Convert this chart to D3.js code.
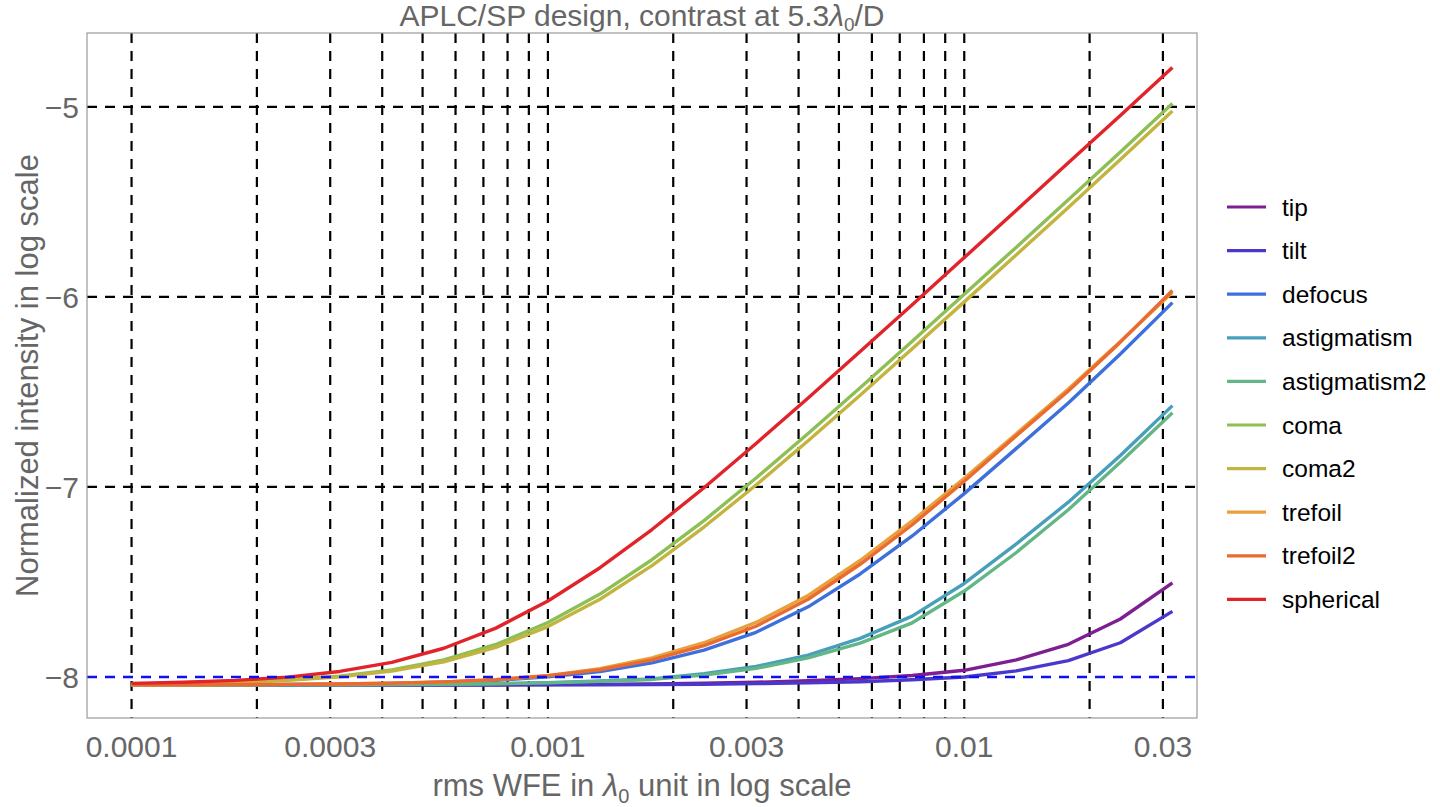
<!DOCTYPE html>
<html>
<head>
<meta charset="utf-8">
<script src="https://cdn.jsdelivr.net/npm/d3@7/dist/d3.min.js"></script>
<style>
  html, body { margin: 0; padding: 0; background: #fff; }
  svg text { font-family: "Liberation Sans", Arial, Helvetica, sans-serif; }
  .tick-label { fill: #666; font-size: 30px; }
  .axis-title { fill: #666; font-size: 31px; }
  .plot-title { fill: #666; font-size: 30px; }
  .legend-label { fill: #000; font-size: 24.5px; }
</style>
</head>
<body>
<svg id="chart" width="1440" height="807"></svg>
<script>
// rms WFE sample points (lambda0 units), 8 per decade
const wfe = [0.0001, 0.0001334, 0.0001778, 0.0002371, 0.0003162, 0.0004217, 0.0005623, 0.0007499,
  0.001, 0.001334, 0.001778, 0.002371, 0.003162, 0.004217, 0.005623, 0.007499,
  0.01, 0.01334, 0.01778, 0.02371, 0.03162];

// log10 of normalized intensity, one array per aberration
const tip = [-8.042, -8.042, -8.042, -8.042, -8.042, -8.042, -8.041, -8.041, -8.040, -8.039, -8.037,
  -8.033, -8.028, -8.020, -8.009, -7.992, -7.965, -7.910, -7.828, -7.695, -7.505];
const tilt = [-8.042, -8.042, -8.042, -8.042, -8.042, -8.042, -8.042, -8.042, -8.041, -8.041, -8.040,
  -8.038, -8.035, -8.031, -8.025, -8.015, -8.000, -7.968, -7.914, -7.820, -7.655];
const defocus = [-8.042, -8.041, -8.041, -8.039, -8.038, -8.034, -8.028, -8.018, -7.999, -7.972, -7.926,
  -7.859, -7.765, -7.631, -7.458, -7.258, -7.035, -6.797, -6.558, -6.300, -6.030];
const astigmatism = [-8.042, -8.042, -8.041, -8.041, -8.041, -8.040, -8.038, -8.035, -8.030, -8.021, -8.010,
  -7.983, -7.945, -7.885, -7.797, -7.680, -7.508, -7.300, -7.080, -6.835, -6.572];
const astigmatism2 = [-8.042, -8.042, -8.042, -8.041, -8.041, -8.040, -8.038, -8.036, -8.031, -8.023, -8.013,
  -7.990, -7.955, -7.900, -7.822, -7.715, -7.548, -7.345, -7.120, -6.870, -6.610];
const coma = [-8.037, -8.033, -8.027, -8.015, -7.996, -7.963, -7.910, -7.829, -7.714, -7.564, -7.383,
  -7.177, -6.953, -6.719, -6.478, -6.233, -5.986, -5.738, -5.489, -5.237, -4.982];
const coma2 = [-8.038, -8.034, -8.028, -8.018, -7.999, -7.969, -7.920, -7.844, -7.735, -7.591, -7.414,
  -7.211, -6.990, -6.757, -6.517, -6.273, -6.026, -5.778, -5.529, -5.277, -5.022];
const trefoil = [-8.041, -8.041, -8.040, -8.039, -8.037, -8.033, -8.026, -8.014, -7.993, -7.957, -7.900,
  -7.820, -7.713, -7.571, -7.387, -7.179, -6.955, -6.720, -6.485, -6.235, -5.976];
const trefoil2 = [-8.041, -8.041, -8.040, -8.039, -8.037, -8.033, -8.026, -8.014, -7.993, -7.962, -7.910,
  -7.835, -7.733, -7.591, -7.407, -7.199, -6.970, -6.730, -6.495, -6.238, -5.966];
const spherical = [-8.034, -8.028, -8.018, -8.001, -7.971, -7.923, -7.849, -7.743, -7.600, -7.425, -7.224,
  -7.004, -6.771, -6.532, -6.287, -6.041, -5.793, -5.544, -5.294, -5.045, -4.793];

const seriesNames = ['tip', 'tilt', 'defocus', 'astigmatism', 'astigmatism2', 'coma', 'coma2', 'trefoil', 'trefoil2', 'spherical'];
const seriesValues = [tip, tilt, defocus, astigmatism, astigmatism2, coma, coma2, trefoil, trefoil2, spherical];
const seriesColors = ['#7d1f90', '#4a38cc', '#3d70dd', '#489fbb', '#63b686', '#8dbf55', '#c2b43e', '#e8a03c', '#eb6a30', '#e0242a'];

// axis ticks and grid lines
const xTicks = [0.0001, 0.0003, 0.001, 0.003, 0.01, 0.03];
const xGrid = [0.0001, 0.0002, 0.0003, 0.0004, 0.0005, 0.0006, 0.0007, 0.0008, 0.0009,
  0.001, 0.002, 0.003, 0.004, 0.005, 0.006, 0.007, 0.008, 0.009, 0.01, 0.02, 0.03];
const yTicks = [-8, -7, -6, -5];
const yGrid = [-7, -6, -5];
const floorLevel = -8;

const svg = d3.select('#chart');
const plot = { left: 87, right: 1197, top: 33, bottom: 718 };

const x = d3.scaleLog()
  .domain([Math.pow(10, -4.107), Math.pow(10, -1.441)])
  .range([plot.left, plot.right]);
const y = d3.scaleLinear()
  .domain([-8.216, -4.611])
  .range([plot.bottom, plot.top]);

// grid lines (behind the curves)
const grid = svg.append('g').attr('class', 'grid');
grid.selectAll('line.vgrid')
  .data(xGrid)
  .enter()
  .append('line')
  .attr('x1', d => x(d))
  .attr('x2', d => x(d))
  .attr('y1', plot.top)
  .attr('y2', plot.bottom)
  .attr('stroke', '#000')
  .attr('stroke-width', 2.2)
  .attr('stroke-dasharray', '10,8');
grid.selectAll('line.hgrid')
  .data(yGrid)
  .enter()
  .append('line')
  .attr('x1', plot.left)
  .attr('x2', plot.right)
  .attr('y1', d => y(d))
  .attr('y2', d => y(d))
  .attr('stroke', '#000')
  .attr('stroke-width', 2.2)
  .attr('stroke-dasharray', '10,8');

// curves
const line = d3.line()
  .x((d, i) => x(wfe[i]))
  .y(d => y(d));
svg.append('g')
  .selectAll('path')
  .data(seriesValues)
  .enter()
  .append('path')
  .attr('d', d => line(d))
  .attr('fill', 'none')
  .attr('stroke', (d, i) => seriesColors[i])
  .attr('stroke-width', 3.4)
  .attr('stroke-linejoin', 'round');

// blue reference line at the floor
svg.append('line')
  .attr('x1', plot.left)
  .attr('x2', plot.right)
  .attr('y1', y(floorLevel))
  .attr('y2', y(floorLevel))
  .attr('stroke', '#1010ee')
  .attr('stroke-width', 2.6)
  .attr('stroke-dasharray', '10,8');

// frame
svg.append('rect')
  .attr('x', plot.left)
  .attr('y', plot.top)
  .attr('width', plot.right - plot.left)
  .attr('height', plot.bottom - plot.top)
  .attr('fill', 'none')
  .attr('stroke', '#9a9a9a')
  .attr('stroke-width', 1.2);

// tick labels
svg.append('g')
  .selectAll('text')
  .data(xTicks)
  .enter()
  .append('text')
  .attr('class', 'tick-label')
  .attr('x', d => x(d))
  .attr('y', 757)
  .attr('text-anchor', 'middle')
  .text(d => String(d));
svg.append('g')
  .selectAll('text')
  .data(yTicks)
  .enter()
  .append('text')
  .attr('class', 'tick-label')
  .attr('x', 79)
  .attr('y', d => y(d) + 11)
  .attr('text-anchor', 'end')
  .text(d => '\u2212' + Math.abs(d));

// axis titles
const xTitle = svg.append('text')
  .attr('class', 'axis-title')
  .attr('x', (plot.left + plot.right) / 2)
  .attr('y', 796)
  .attr('text-anchor', 'middle');
xTitle.append('tspan').text('rms WFE in ');
xTitle.append('tspan').attr('font-style', 'italic').text('\u03bb');
xTitle.append('tspan').attr('font-size', '20px').attr('dy', 7).text('0');
xTitle.append('tspan').attr('dy', -7).text(' unit in log scale');

svg.append('text')
  .attr('class', 'axis-title')
  .attr('transform', `translate(38,${(plot.top + plot.bottom) / 2}) rotate(-90)`)
  .attr('text-anchor', 'middle')
  .text('Normalized intensity in log scale');

const title = svg.append('text')
  .attr('class', 'plot-title')
  .attr('x', (plot.left + plot.right) / 2)
  .attr('y', 26)
  .attr('text-anchor', 'middle');
title.append('tspan').text('APLC/SP design, contrast at 5.3');
title.append('tspan').attr('font-style', 'italic').text('\u03bb');
title.append('tspan').attr('font-size', '19px').attr('dy', 5).text('0');
title.append('tspan').attr('dy', -5).text('/D');

// legend
const legendTop = 207;
const legendStep = 43.6;
const legend = svg.append('g')
  .selectAll('g')
  .data(seriesNames)
  .enter()
  .append('g')
  .attr('transform', (d, i) => `translate(1227,${legendTop + i * legendStep})`);
legend.append('line')
  .attr('x1', 0)
  .attr('x2', 39)
  .attr('stroke', (d, i) => seriesColors[i])
  .attr('stroke-width', 3.2);
legend.append('text')
  .attr('class', 'legend-label')
  .attr('x', 55)
  .attr('y', 8.5)
  .text(d => d);
</script>
</body>
</html>
